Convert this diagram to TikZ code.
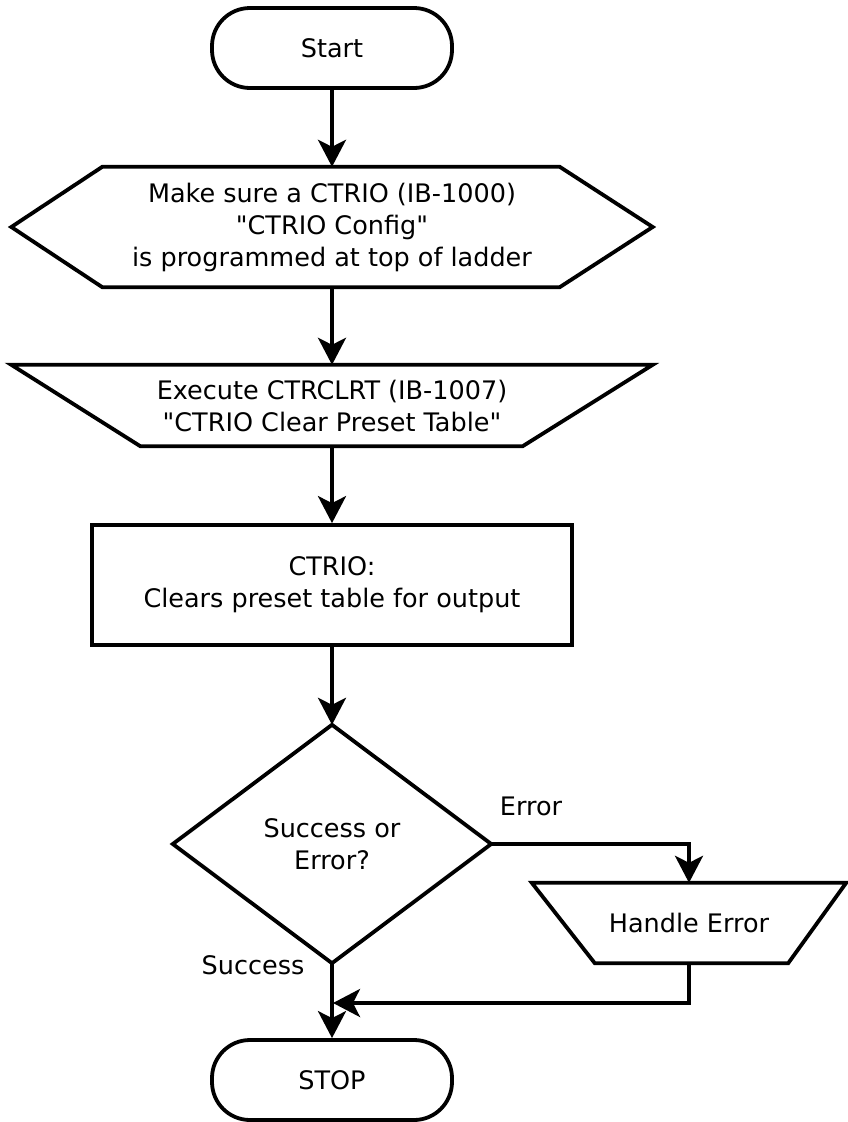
\documentclass[tikz,border=0pt]{standalone}
\usepackage{fontspec}
\setmainfont{DejaVu Sans}[Ligatures=TeXOff]
\usetikzlibrary{arrows.meta,calc}
\begin{document}
\begin{tikzpicture}[x=1pt,y=-1pt,
  every node/.style={font=\fontsize{25.5}{32}\selectfont, align=center, inner sep=0pt},
  outline/.style={draw=black, line width=3.8pt, line join=miter},
  flow/.style={draw=black, line width=3.8pt, -{Stealth[length=27pt,width=28pt,inset=7pt]}},
  terminal/.style={outline, rounded corners=38pt, minimum width=240pt, minimum height=80pt}]
\useasboundingbox (0,0) rectangle (848,1122);
% nodes
\node[terminal] (start) at (332,48) {Start};
\node[minimum width=641pt, minimum height=120pt] (cfg) at (332,227)
  {Make sure a CTRIO (IB-1000)\\"CTRIO Config"\\is programmed at top of ladder};
\draw[outline] (cfg.west) -- ($(cfg.north west)+(91,0)$) -- ($(cfg.north east)+(-93,0)$)
  -- (cfg.east) -- ($(cfg.south east)+(-93,0)$) -- ($(cfg.south west)+(91,0)$) -- cycle;
\node[minimum width=641pt, minimum height=81pt] (exec) at (332,405.5)
  {Execute CTRCLRT (IB-1007)\\"CTRIO Clear Preset Table"};
\draw[outline] (exec.north west) -- (exec.north east) -- ($(exec.south east)+(-130,0)$)
  -- ($(exec.south west)+(129,0)$) -- cycle;
\node[outline, minimum width=480pt, minimum height=120pt] (clr) at (332,585)
  {CTRIO:\\Clears preset table for output};
\node[minimum width=318pt, minimum height=238pt] (dec) at (332,844) {Success or\\Error?};
\draw[outline] (dec.north) -- (dec.east) -- (dec.south) -- (dec.west) -- cycle;
\node[minimum width=314pt, minimum height=80pt] (he) at (689,923) {Handle Error};
\draw[outline] (he.north west) -- (he.north east) -- ($(he.south east)+(-58,0)$)
  -- ($(he.south west)+(63,0)$) -- cycle;
\node[terminal] (stop) at (332,1080) {STOP};
\node (err) at (531,806) {Error};
\node (suc) at (253,965) {Success};
\coordinate (join) at (333,1003);
% connectors
\draw[flow] (start.south) -- (cfg.north);
\draw[flow] (cfg.south) -- (exec.north);
\draw[flow] (exec.south) -- (clr.north);
\draw[flow] (clr.south) -- (dec.north);
\draw[flow] (dec.east) -| (he.north);
\draw[flow] (he.south) |- (join);
\draw[flow] (dec.south) -- (stop.north);
\end{tikzpicture}
\end{document}
